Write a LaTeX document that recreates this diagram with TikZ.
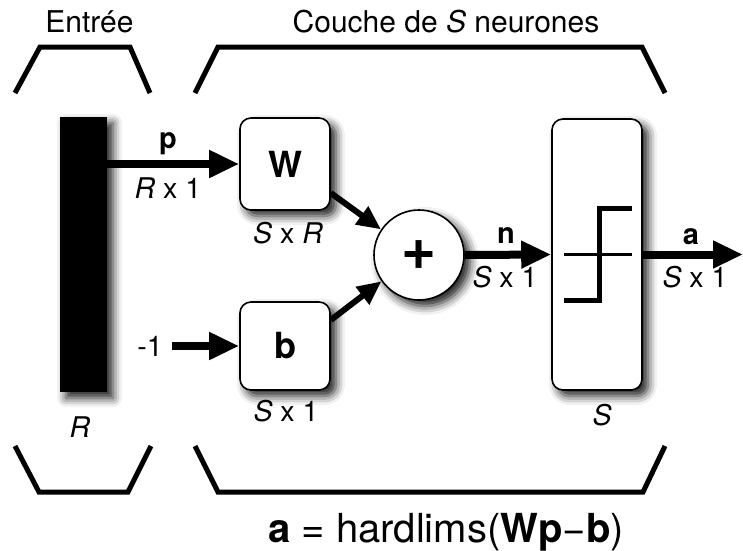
\documentclass[tikz,border=0pt]{standalone}
\usepackage{fontspec}
\setmainfont{TeX Gyre Heros}
\usetikzlibrary{arrows.meta,shadows.blur,calc}
\begin{document}
\begin{tikzpicture}[x=1pt,y=-1pt,
  shd/.style={blur shadow={shadow xshift=6pt, shadow yshift=-6pt, shadow blur radius=9pt, shadow opacity=90}},
  blk/.style={draw, line width=1.6pt, fill=white, rounded corners=11pt, inner sep=0pt, shd},
  arr/.style={line width=8pt, -{Triangle[length=30pt,width=26pt]}},
  arrb/.style={line width=6pt, -{Triangle[length=24pt,width=21pt]}},
  brk/.style={line width=5pt, line join=miter},
  lbl/.style={font=\fontsize{28.5}{30}\selectfont, inner sep=0pt, anchor=base},
  ttl/.style={font=\fontsize{30}{32}\selectfont, inner sep=0pt, anchor=base},
  big/.style={font=\fontsize{36}{38}\selectfont\bfseries, inner sep=0pt}]
\useasboundingbox (0,0) rectangle (743,550);
% brackets
\draw[brk] (15,93) -- (40,47) -- (130,47) -- (150,93);
\draw[brk] (195,93) -- (218,47) -- (642,47) -- (665,93);
\draw[brk] (15,446) -- (39,492) -- (128,492) -- (151,446);
\draw[brk] (195,446) -- (218,492) -- (643,492) -- (665,446);
% titles
\node[ttl] (tin) at (89.5,32) {Entrée};
\node[ttl] (tcouche) at (446,32) {Couche de \textit{S} neurones};
\node[lbl, font=\fontsize{40}{42}\selectfont] (formula) at (446,542) {\textbf{a} = hardlims(\textbf{Wp}−\textbf{b})};
% blocks
\node[fill=black, minimum width=47pt, minimum height=275pt, inner sep=0pt, shd] (bar) at (83.5,254.5) {};
\node[blk, minimum width=90pt, minimum height=92pt, big] (W) at (285,164) {W};
\node[blk, minimum width=90pt, minimum height=88pt, big] (b) at (285,346) {b};
\node[draw, line width=1.6pt, fill=white, circle, minimum size=90pt, inner sep=0pt, shd,
      font=\fontsize{60}{62}\selectfont\bfseries] (sum) at (419,255) {+};
\node[blk, minimum width=90pt, minimum height=271pt] (f) at (597,254.5) {};
% transfer function
\draw[line width=2.5pt] ($(f.center)+(-33,0)$) -- ($(f.center)+(35,0)$);
\draw[line width=5pt, line join=miter] ($(f.center)+(-33,45.5)$) -- ($(f.center)+(2,45.5)$) -- ($(f.center)+(2,-46.5)$) -- ($(f.center)+(35,-46.5)$);
% labels
\node[lbl, font=\fontsize{29}{30}\selectfont\bfseries] (pl) at (168,148) {p};
\node[lbl] (pdim) at (168,198) {\textit{R} x 1};
\node[lbl] (Wdim) at (288,243) {\textit{S} x \textit{R}};
\node[lbl] (bdim) at (286,421) {\textit{S} x 1};
\node[lbl] (Rl) at (80,437) {\textit{R}};
\node[lbl, anchor=east] (m1) at (163,346) {-1};
\node[lbl, font=\fontsize{29}{30}\selectfont\bfseries] (nl) at (506,243) {n};
\node[lbl] (ndim) at (505,287) {\textit{S} x 1};
\node[lbl] (Sl) at (602,425) {\textit{S}};
\node[lbl, font=\fontsize{29}{30}\selectfont\bfseries] (al) at (691,244) {a};
\node[lbl] (adim) at (695,287) {\textit{S} x 1};
\coordinate (out) at (743,254.5);
% connectors
\draw[arr] (bar.east |- W.west) -- (W.west);
\draw[arr] ($(m1.east)+(9,0)$) -- (b.west);
\draw[arrb] ($(W.east)+(0,29)$) -- (sum.146);
\draw[arrb] ($(b.east)+(0,-26)$) -- (sum.215);
\draw[arr] (sum.east) -- (f.west);
\draw[arr] (f.east) -- (out);
\end{tikzpicture}
\end{document}
